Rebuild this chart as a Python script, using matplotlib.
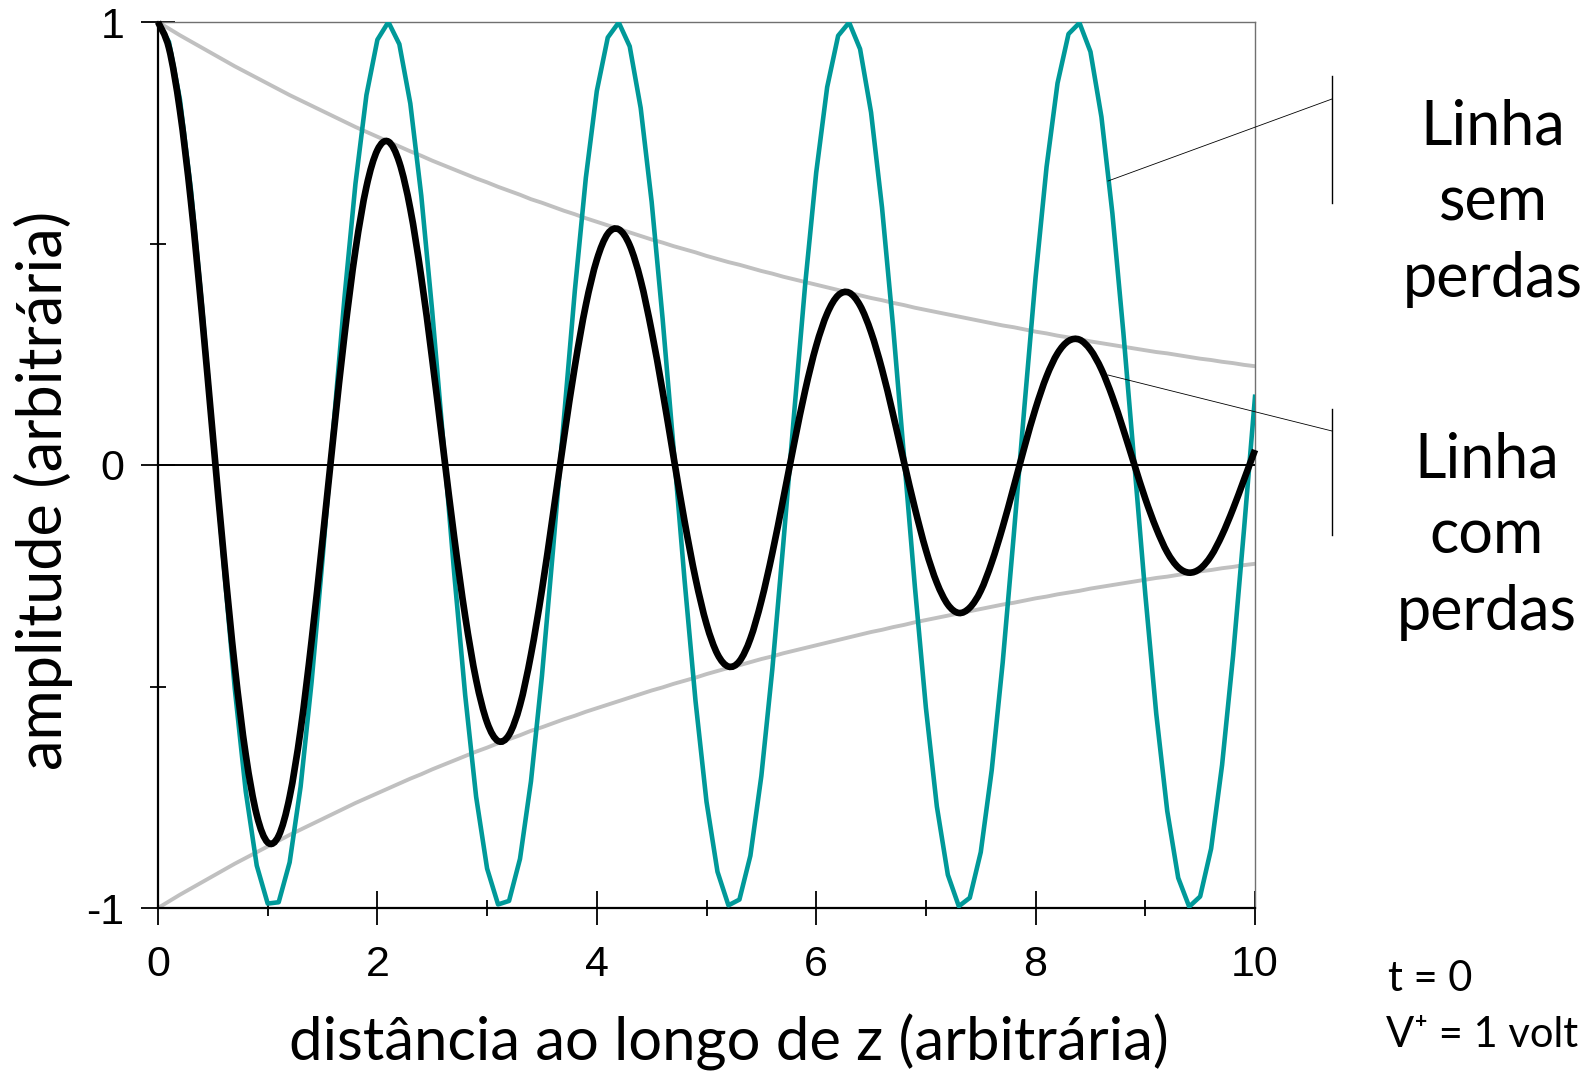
import matplotlib
matplotlib.use('Agg')
import matplotlib.pyplot as plt
from matplotlib.lines import Line2D
from matplotlib.path import Path
from matplotlib.patches import PathPatch

# distance along z, sampled every 0.1
z = [k / 10 for k in range(101)]

# lossless line: amplitude at t = 0
sem_perdas = [
    1.000, 0.955, 0.825, 0.622, 0.362, 0.071, -0.227, -0.505, -0.737, -0.904,
    -0.990, -0.987, -0.897, -0.726, -0.490, -0.211, 0.087, 0.378, 0.635, 0.835,
    0.960, 1.000, 0.950, 0.816, 0.608, 0.346, 0.054, -0.244, -0.519, -0.749,
    -0.911, -0.992, -0.984, -0.889, -0.714, -0.476, -0.194, 0.104, 0.394, 0.648,
    0.844, 0.965, 0.999, 0.945, 0.806, 0.594, 0.330, 0.037, -0.260, -0.533,
    -0.760, -0.918, -0.994, -0.981, -0.882, -0.702, -0.461, -0.178, 0.120, 0.409,
    0.660, 0.853, 0.969, 0.999, 0.939, 0.796, 0.581, 0.315, 0.020, -0.276,
    -0.548, -0.771, -0.925, -0.996, -0.977, -0.874, -0.689, -0.446, -0.161, 0.137,
    0.424, 0.673, 0.862, 0.973, 0.998, 0.933, 0.786, 0.568, 0.299, 0.004,
    -0.292, -0.562, -0.781, -0.932, -0.997, -0.974, -0.866, -0.677, -0.431, -0.145,
    0.154,
]

# lossy line
com_perdas = [
    1.000, 0.941, 0.800, 0.595, 0.341, 0.066, -0.207, -0.455, -0.654, -0.790,
    -0.852, -0.837, -0.749, -0.598, -0.397, -0.169, 0.068, 0.293, 0.485, 0.628,
    0.711, 0.730, 0.683, 0.578, 0.424, 0.238, 0.037, -0.163, -0.341, -0.485,
    -0.581, -0.623, -0.609, -0.542, -0.428, -0.282, -0.113, 0.060, 0.223, 0.361,
    0.463, 0.522, 0.532, 0.496, 0.417, 0.302, 0.166, 0.018, -0.127, -0.256,
    -0.359, -0.427, -0.455, -0.443, -0.392, -0.307, -0.199, -0.076, 0.050, 0.169,
    0.269, 0.342, 0.383, 0.389, 0.360, 0.300, 0.216, 0.115, 0.007, -0.098,
    -0.192, -0.266, -0.315, -0.334, -0.322, -0.284, -0.220, -0.140, -0.050, 0.042,
    0.128, 0.200, 0.252, 0.280, 0.283, 0.260, 0.216, 0.154, 0.080, 0.001,
    -0.076, -0.143, -0.197, -0.231, -0.243, -0.234, -0.205, -0.158, -0.099, -0.033,
    0.034,
]

# attenuation envelope
envelope = [
    1.000, 0.985, 0.970, 0.956, 0.942, 0.928, 0.914, 0.900, 0.887, 0.874,
    0.861, 0.848, 0.835, 0.823, 0.811, 0.799, 0.787, 0.775, 0.763, 0.752,
    0.741, 0.730, 0.719, 0.708, 0.698, 0.687, 0.677, 0.667, 0.657, 0.647,
    0.638, 0.628, 0.619, 0.610, 0.600, 0.592, 0.583, 0.574, 0.566, 0.557,
    0.549, 0.541, 0.533, 0.525, 0.517, 0.509, 0.502, 0.494, 0.487, 0.480,
    0.472, 0.465, 0.458, 0.452, 0.445, 0.438, 0.432, 0.425, 0.419, 0.413,
    0.407, 0.401, 0.395, 0.389, 0.383, 0.377, 0.372, 0.366, 0.361, 0.355,
    0.350, 0.345, 0.340, 0.335, 0.330, 0.325, 0.320, 0.315, 0.311, 0.306,
    0.301, 0.297, 0.292, 0.288, 0.284, 0.279, 0.275, 0.271, 0.267, 0.263,
    0.259, 0.255, 0.252, 0.248, 0.244, 0.240, 0.237, 0.233, 0.230, 0.226,
    0.223,
]
envelope_neg = [-v for v in envelope]

x_ticks = [0, 2, 4, 6, 8, 10]
y_ticks = [-1, 0, 1]


def smooth_path(xs, ys):
    # Catmull-Rom style bezier through the points (like a "smoothed line")
    n = len(xs)
    verts = [(xs[0], ys[0])]
    codes = [Path.MOVETO]
    for i in range(n - 1):
        i0 = max(i - 1, 0)
        i3 = min(i + 2, n - 1)
        c1 = (xs[i] + (xs[i + 1] - xs[i0]) / 6, ys[i] + (ys[i + 1] - ys[i0]) / 6)
        c2 = (xs[i + 1] - (xs[i3] - xs[i]) / 6, ys[i + 1] - (ys[i3] - ys[i]) / 6)
        verts += [c1, c2, (xs[i + 1], ys[i + 1])]
        codes += [Path.CURVE4] * 3
    return Path(verts, codes)


W, H = 1591, 1080
fig = plt.figure(figsize=(W / 100, H / 100), dpi=100)
ax = fig.add_axes([158 / W, 1 - 908 / H, 1097 / W, 886 / H])

text_font = ['Lato', 'DejaVu Sans']
tick_font = 'Liberation Sans'

ax.plot(z, envelope, color='#c0c0c0', lw=2.8, zorder=2)
ax.plot(z, envelope_neg, color='#c0c0c0', lw=2.8, zorder=2)
ax.axhline(0, color='black', lw=1.4, zorder=3)
ax.plot(z, sem_perdas, color='#009999', lw=3.3, zorder=4)
ax.add_patch(PathPatch(smooth_path(z, com_perdas), facecolor='none',
                       edgecolor='black', lw=4.8, zorder=5, clip_on=False))

ax.set_xlim(0, 10)
ax.set_ylim(-1, 1)

ax.set_xticks(x_ticks)
ax.set_xticks([1, 3, 5, 7, 9], minor=True)
ax.set_yticks(y_ticks)
ax.set_yticks([-0.5, 0.5], minor=True)
ax.set_xticklabels([str(v) for v in x_ticks], fontfamily=tick_font, fontsize=31)
ax.set_yticklabels([str(v) for v in y_ticks], fontfamily=tick_font, fontsize=31)
ax.tick_params(which='major', direction='inout', length=24, width=1.3, pad=12)
ax.tick_params(axis='x', which='major', pad=15)
ax.tick_params(which='minor', direction='inout', length=12, width=1.3)

ax.spines['left'].set_linewidth(1.6)
ax.spines['bottom'].set_linewidth(1.6)
for s in ['top', 'right']:
    ax.spines[s].set_color('#707070')
    ax.spines[s].set_linewidth(1.0)

fig.text(729 / W, 1 - 1042 / H, 'distância ao longo de z (arbitrária)',
         ha='center', va='center', fontsize=43, family=text_font)
fig.text(43 / W, 1 - 490 / H, 'amplitude (arbitrária)', rotation=90,
         ha='center', va='center', fontsize=44, family=text_font)

fig.text(1493 / W, 1 - 203 / H, 'Linha\nsem\nperdas', ha='center', va='center',
         fontsize=44, family=text_font, linespacing=1.42)
fig.text(1487 / W, 1 - 536 / H, 'Linha\ncom\nperdas', ha='center', va='center',
         fontsize=44, family=text_font, linespacing=1.42)

fig.text(1388 / W, 1 - 979 / H, 't = 0', ha='left', va='center',
         fontsize=30, family=text_font)
fig.text(1386 / W, 1 - 1035 / H, 'V\u207a = 1 volt', ha='left', va='center',
         fontsize=30, family=text_font)


# brackets and pointer lines
def fig_line(x0, y0, x1, y1, lw):
    fig.add_artist(Line2D([x0 / W, x1 / W], [1 - y0 / H, 1 - y1 / H],
                          transform=fig.transFigure, color='black', lw=lw))


fig_line(1332, 76, 1332, 203, 1.0)
fig_line(1332, 409, 1332, 535, 1.0)
fig_line(1332, 99, 1108, 181, 0.6)
fig_line(1332, 431, 1108, 375, 0.6)

fig.savefig('out.png', dpi=100)
